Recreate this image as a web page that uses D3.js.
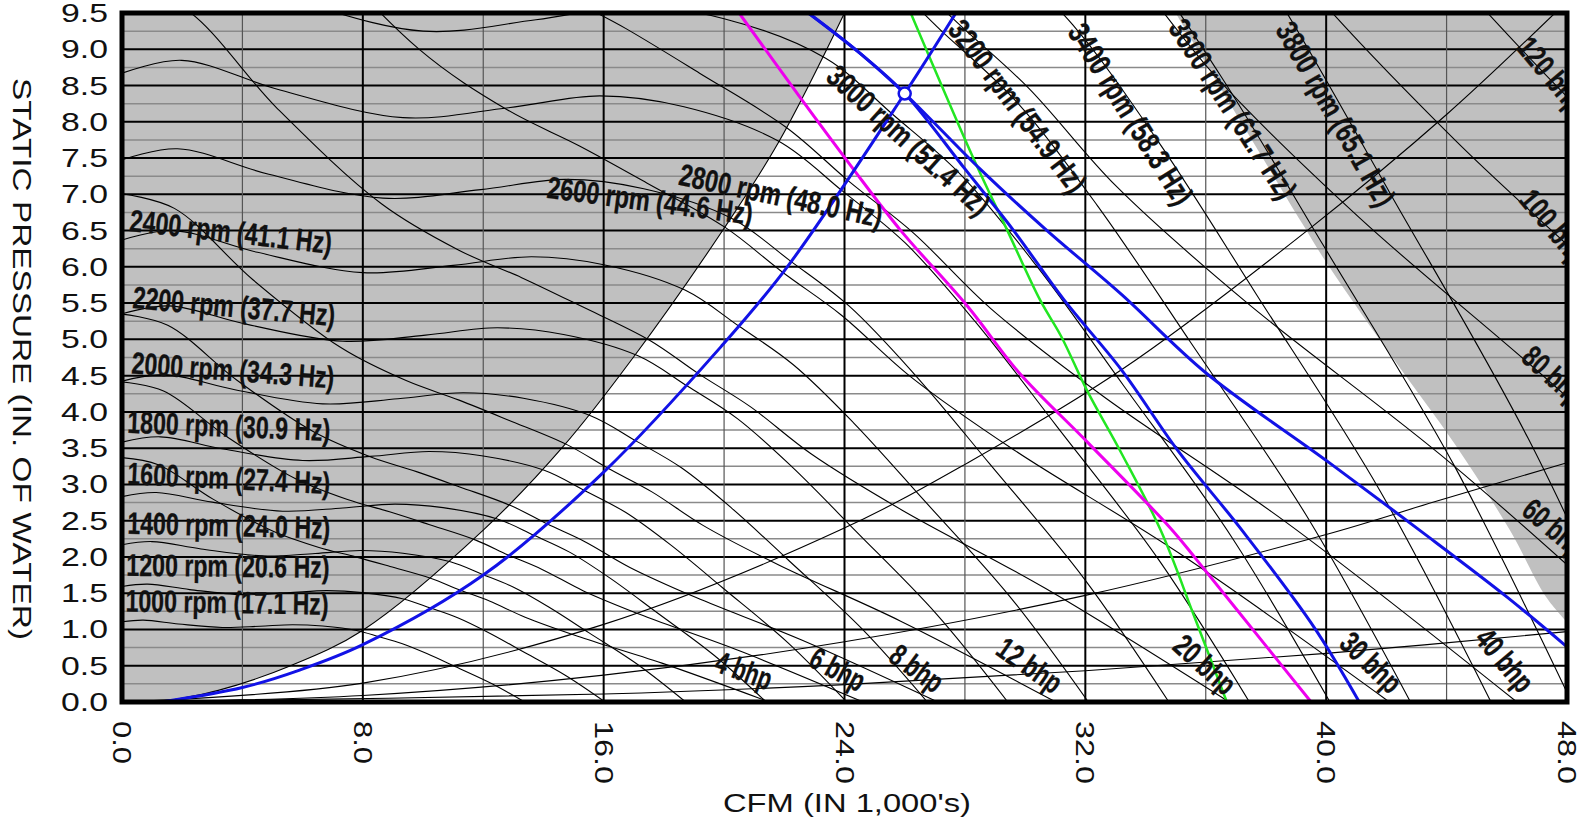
<!DOCTYPE html>
<html>
<head>
<meta charset="utf-8">
<script src="https://cdn.jsdelivr.net/npm/d3@7"></script>
<style>
    html, body { margin: 0; padding: 0; background: #fff; }
    svg { display: block; }
    .curveLabel {
        font-family: 'Liberation Sans Narrow', 'Arial Narrow', 'Liberation Sans', sans-serif;
        font-weight: bold;
        font-size: 31px;
        fill: #111;
        stroke: #111;
        stroke-width: 0.3px;
    }
    .axisText {
        font-family: 'Liberation Sans', Arial, sans-serif;
        font-size: 25px;
        fill: #111;
    }
</style>
</head>
<body>
<svg id="chart" width="1585" height="825"></svg>
<script>
/*-------------------------------------------------------*/
/*------------------------ data -------------------------*/
/*-------------------------------------------------------*/
// fan curve (flow in 1,000 cfm, pressure in in. of water)
const baseRpm = 2400;
const baseFlow     = [0, 1.7, 4.5, 8.0, 11.0, 13.6, 16.0, 18.7, 20.5, 22.3, 24.3, 26.6, 29.5, 32.1];
const basePressure = [6.37, 6.50, 6.20, 5.92, 6.02, 6.14, 6.03, 5.68, 5.18, 4.65, 3.85, 2.80, 1.45, 0.0];
// brake horsepower along that same line
const basePower    = [10.4, 11.2, 13.2, 16.0, 19.0, 21.5, 23.2, 24.3, 24.5, 24.4, 23.9, 21.7, 17.8, 13.3];

const rpmValues = [1000, 1200, 1400, 1600, 1800, 2000, 2200, 2400, 2600, 2800, 3000, 3200, 3400, 3600, 3800];
const hzValues  = ["17.1", "20.6", "24.0", "27.4", "30.9", "34.3", "37.7", "41.1", "44.6", "48.0", "51.4", "54.9", "58.3", "61.7", "65.1"];
const bhpValues = [4, 6, 8, 12, 20, 30, 40, 60, 80, 100, 120];

// system curves and region edges, [cfm, static pressure]
const stallEdge = [[1.3, 0], [3.2, 0.16], [5.6, 0.5], [8, 0.99], [12, 2.37], [14.65, 3.52], [17, 4.76], [19.9, 6.47], [21.8, 7.71], [24, 9.5]];
const maxSpeedEdge = [[35.0, 9.5], [37.1, 8.05], [39.2, 6.6], [40.1, 6.0], [42.2, 4.75], [44.3, 3.54], [46.1, 2.37], [47.3, 1.45], [48, 1.1]];
const systemA = [[0, 0], [8, 0.26], [16, 1.07], [23.85, 2.37], [28.1, 3.3], [33.2, 4.58], [39.4, 6.51], [44, 8.1], [47.6, 9.5]];
const systemB = [[0, 0], [8, 0.09], [16, 0.37], [24, 0.83], [32, 1.47], [40, 2.31], [43.6, 2.76], [48, 3.3]];
const systemC = [[0, 0], [16, 0.11], [24, 0.24], [32, 0.43], [40, 0.67], [48, 0.97]];
const systemBlue = [[1.3, 0], [4, 0.2], [5.9, 0.44], [8, 0.79], [12, 1.75], [16, 3.17], [19.9, 4.9], [22.1, 6.0], [26, 8.39], [27.7, 9.5]];

// highlighted selections
const blueUpper = [[22.8, 9.5], [24.5, 8.95], [26.0, 8.39], [28.5, 7.35], [30.7, 6.51], [33.2, 5.62], [36.0, 4.54], [40.1, 3.3], [43.1, 2.37], [46, 1.45], [48, 0.76]];
const blueLower = [[22.8, 9.5], [24.5, 8.95], [26.0, 8.39], [28.0, 7.35], [29.6, 6.51], [31.3, 5.54], [33.2, 4.58], [35.05, 3.48], [37.2, 2.37], [39.6, 1.03], [41.1, 0]];
const magentaCurve = [[20.5, 9.5], [22.5, 8.35], [24.2, 7.4], [25.85, 6.51], [28.1, 5.45], [29.8, 4.54], [32.1, 3.57], [34.8, 2.41], [35.7, 1.96], [37.6, 0.98], [39.5, 0]];
const greenCurve = [[26.2, 9.5], [28.3, 7.48], [29.4, 6.51], [30.5, 5.54], [31.2, 5.04], [32.05, 4.3], [33.2, 3.43], [34.5, 2.37], [35.6, 1.2], [36.7, 0]];
const operatingPoint = [26.0, 8.39];

// axis ticks
const xTicks = [0, 8, 16, 24, 32, 40, 48];
const yTicks = [0, 0.5, 1, 1.5, 2, 2.5, 3, 3.5, 4, 4.5, 5, 5.5, 6, 6.5, 7, 7.5, 8, 8.5, 9, 9.5];

/*-------------------------------------------------------*/
/*----------------------- layout ------------------------*/
/*-------------------------------------------------------*/
const plot = { left: 122, top: 13, right: 1567, bottom: 702 };

// label spots in chart units: [cfm, pressure, angle]
const rpmLabelSpots = [
    [3.49, 1.38, 0.9], [3.52, 1.88, 0.6], [3.55, 2.44, 1.4], [3.55, 3.09, 2.8],
    [3.55, 3.81, 2.3], [3.69, 4.58, 4.2], [3.72, 5.46, 5.1], [3.62, 6.49, 6.5],
    [17.54, 6.92, 7.5], [21.89, 6.99, 12], [26.14, 7.75, 42], [29.76, 8.22, 53],
    [33.52, 8.11, 58], [36.91, 8.18, 57], [40.33, 8.11, 60]
];
const bhpLabelSpots = [
    [20.66, 0.44, 20], [23.78, 0.455, 28], [26.41, 0.47, 36], [30.16, 0.51, 35],
    [35.98, 0.52, 42], [41.5, 0.55, 44], [45.95, 0.58, 50], [47.59, 2.40, 40],
    [47.57, 4.50, 42], [47.59, 6.55, 50], [47.5, 8.65, 50]
];

const svg = d3.select("#chart");

const xScale = d3.scaleLinear().domain([0, 48]).range([plot.left, plot.right]);
const yScale = d3.scaleLinear().domain([0, 9.5]).range([plot.bottom, plot.top]);

const line = d3.line()
    .x(d => xScale(d[0]))
    .y(d => yScale(d[1]))
    .curve(d3.curveCatmullRom.alpha(0.5));

svg.append("defs").append("clipPath")
    .attr("id", "plotClip")
    .append("rect")
    .attr("x", plot.left)
    .attr("y", plot.top)
    .attr("width", plot.right - plot.left)
    .attr("height", plot.bottom - plot.top);

const g = svg.append("g").attr("clip-path", "url(#plotClip)");

/*---------------- shaded regions ----------------*/
g.append("path")
    .attr("d", line(stallEdge) +
        "L" + xScale(-1) + "," + yScale(10) +
        "L" + xScale(-1) + "," + yScale(-1) +
        "L" + xScale(1.3) + "," + yScale(-1) + "Z")
    .attr("fill", "#c0c0c0");

g.append("path")
    .attr("d", line(maxSpeedEdge) +
        "L" + xScale(49) + "," + yScale(1.1) +
        "L" + xScale(49) + "," + yScale(10) +
        "L" + xScale(35) + "," + yScale(10) + "Z")
    .attr("fill", "#c0c0c0");

/*---------------- grid ----------------*/
g.selectAll(".hgrid")
    .data(d3.range(0, 38).map(i => i * 0.25))
    .enter()
    .append("line")
    .attr("x1", plot.left)
    .attr("x2", plot.right)
    .attr("y1", d => yScale(d))
    .attr("y2", d => yScale(d))
    .attr("stroke", (d, i) => i % 2 === 0 ? "#000" : "#8a8a8a")
    .attr("stroke-width", (d, i) => i % 2 === 0 ? 2 : 1.5);

g.selectAll(".vgrid")
    .data(d3.range(0, 13).map(i => i * 4))
    .enter()
    .append("line")
    .attr("x1", d => xScale(d))
    .attr("x2", d => xScale(d))
    .attr("y1", plot.top)
    .attr("y2", plot.bottom)
    .attr("stroke", (d, i) => i % 2 === 0 ? "#000" : "#555")
    .attr("stroke-width", (d, i) => i % 2 === 0 ? 2 : 1.2);

/*---------------- fan curves (affinity laws off the 2400 rpm line) ----------------*/
const rpmCurves = rpmValues.map(n => {
    const r = n / baseRpm;
    return baseFlow.map((q, i) => [q * r, basePressure[i] * r * r]);
});

const bhpCurves = bhpValues.map(w => {
    return baseFlow.map((q, i) => {
        const r = Math.cbrt(w / basePower[i]);
        return [q * r, basePressure[i] * r * r];
    });
});

const thin = [stallEdge, systemA, systemB, systemC].concat(rpmCurves, bhpCurves);

g.selectAll(".thin")
    .data(thin)
    .enter()
    .append("path")
    .attr("d", line)
    .attr("fill", "none")
    .attr("stroke", "#000")
    .attr("stroke-width", 1.1);

/*---------------- highlighted curves ----------------*/
const colored = [
    { pts: greenCurve, color: "#22e622", w: 2.5 },
    { pts: magentaCurve, color: "#ee00ee", w: 3 },
    { pts: systemBlue, color: "#1212e6", w: 3 },
    { pts: blueLower, color: "#1212e6", w: 3 },
    { pts: blueUpper, color: "#1212e6", w: 3 }
];

g.selectAll(".colored")
    .data(colored)
    .enter()
    .append("path")
    .attr("d", d => line(d.pts))
    .attr("fill", "none")
    .attr("stroke", d => d.color)
    .attr("stroke-width", d => d.w);

g.append("circle")
    .attr("cx", xScale(operatingPoint[0]))
    .attr("cy", yScale(operatingPoint[1]))
    .attr("r", 6)
    .attr("fill", "#fff")
    .attr("stroke", "#1212e6")
    .attr("stroke-width", 2.5);

/*---------------- curve labels ----------------*/
const labels = rpmValues.map((n, i) => ({
    text: n + " rpm (" + hzValues[i] + " Hz)",
    spot: rpmLabelSpots[i],
    len: i < 8 ? 203 : 207
})).concat(bhpValues.map((w, i) => ({
    text: w + " bhp",
    spot: bhpLabelSpots[i],
    len: w < 10 ? 58 : (w < 100 ? 72 : 88)
})));

g.selectAll(".curveLabel")
    .data(labels)
    .enter()
    .append("text")
    .attr("class", "curveLabel")
    .attr("text-anchor", "middle")
    .attr("dy", "0.36em")
    .attr("textLength", d => d.len)
    .attr("lengthAdjust", "spacingAndGlyphs")
    .attr("transform", d => "translate(" + xScale(d.spot[0]) + "," + yScale(d.spot[1]) + ") rotate(" + d.spot[2] + ")")
    .text(d => d.text);

/*---------------- frame ----------------*/
svg.append("rect")
    .attr("x", plot.left)
    .attr("y", plot.top)
    .attr("width", plot.right - plot.left)
    .attr("height", plot.bottom - plot.top)
    .attr("fill", "none")
    .attr("stroke", "#000")
    .attr("stroke-width", 5);

/*---------------- axes text ----------------*/
svg.selectAll(".ytick")
    .data(yTicks)
    .enter()
    .append("text")
    .attr("class", "axisText")
    .attr("x", 61)
    .attr("y", d => yScale(d))
    .attr("dy", "0.36em")
    .attr("textLength", 47)
    .attr("lengthAdjust", "spacingAndGlyphs")
    .text(d => d3.format(".1f")(d));

svg.selectAll(".xtick")
    .data(xTicks)
    .enter()
    .append("text")
    .attr("class", "axisText")
    .attr("transform", d => "translate(" + (xScale(d) - 9) + ",721) rotate(90)")
    .attr("textLength", d => d < 10 ? 43 : 63)
    .attr("lengthAdjust", "spacingAndGlyphs")
    .text(d => d3.format(".1f")(d));

svg.append("text")
    .attr("class", "axisText")
    .attr("transform", "translate(13,359) rotate(90)")
    .attr("text-anchor", "middle")
    .attr("textLength", 562)
    .attr("lengthAdjust", "spacingAndGlyphs")
    .text("STATIC PRESSURE (IN. OF WATER)");

svg.append("text")
    .attr("class", "axisText")
    .attr("x", 723)
    .attr("y", 812)
    .attr("textLength", 248)
    .attr("lengthAdjust", "spacingAndGlyphs")
    .text("CFM (IN 1,000's)");
</script>
</body>
</html>
